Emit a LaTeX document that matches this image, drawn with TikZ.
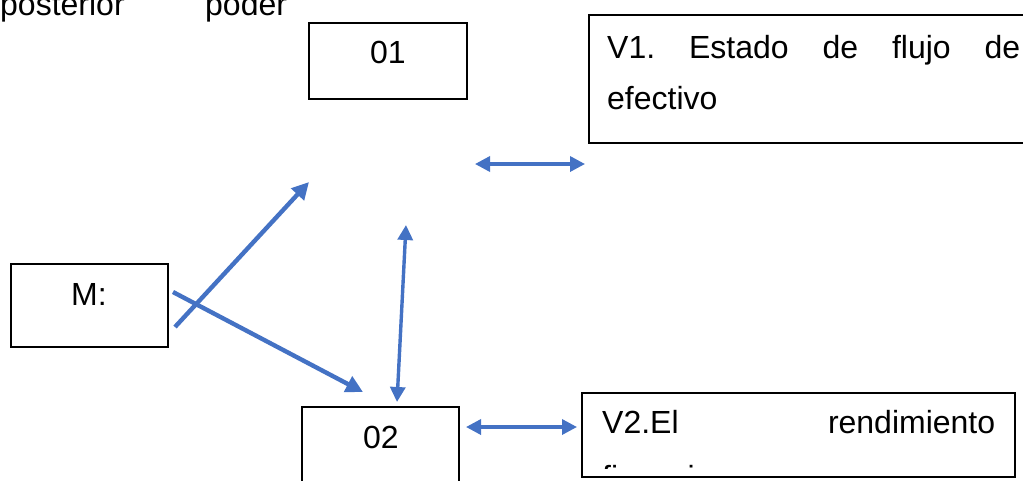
\documentclass[tikz,border=0pt]{standalone}
\usepackage{fontspec}
\setmainfont{Liberation Sans}
\usetikzlibrary{arrows.meta}
\definecolor{arrowblue}{HTML}{4472C4}
\begin{document}
\begin{tikzpicture}[x=1pt,y=-1pt,
  box/.style={draw=black, line width=1.4pt, inner sep=0pt, fill=none},
  txt/.style={inner sep=0pt, anchor=base west, font=\fontsize{32}{38}\selectfont},
  ctxt/.style={inner sep=0pt, anchor=base, font=\fontsize{32}{38}\selectfont},
  conn/.style={draw=arrowblue, line width=4.4pt, -{Triangle[length=17pt,width=17pt]}},
  dbl/.style={draw=arrowblue, line width=3.4pt, {Triangle[length=15pt,width=15pt]}-{Triangle[length=15pt,width=15pt]}}]
\useasboundingbox (0,0) rectangle (1023,480);
\clip (0,0) rectangle (1023,480);

% top text fragment
\node[txt] (posterior) at (0,15) {posterior};
\node[txt] (poder) at (205,15) {poder};

% boxes
\draw[box] (309,23) rectangle (467,99);
\node[ctxt] (t01) at (388,63) {01};

\draw[box] (589,15) rectangle (1040,143);
\node[txt] (v1a) at (607,58) {\hbox to 413pt{V1.\hfill Estado\hfill de\hfill flujo\hfill de}};
\node[txt] (v1b) at (607,109) {efectivo};

\draw[box] (11,264) rectangle (168,347);
\node[ctxt] (tM) at (89,305) {M:};

\draw[box] (302,407) rectangle (459,500);
\node[ctxt] (t02) at (381,448) {02};

\draw[box] (582,393) rectangle (1015,477);
\node[txt] (v2a) at (602,433) {\hbox to 393pt{V2.El\hfill rendimiento}};
\begin{scope}
  \clip (583,394) rectangle (1014,468);
  \node[txt] (v2b) at (602,488) {financiero};
\end{scope}

% connector end points
\coordinate (m1s) at (175,327);
\coordinate (m1e) at (309,182);
\coordinate (m2s) at (173,292);
\coordinate (m2e) at (363,392);
\coordinate (vt) at (406,225);
\coordinate (vb) at (397,402);
\coordinate (h1l) at (475,164);
\coordinate (h1r) at (585,164);
\coordinate (h2l) at (466,427);
\coordinate (h2r) at (577,427);

\draw[conn] (m1s) -- (m1e);
\draw[conn] (m2s) -- (m2e);
\draw[dbl] (vt) -- (vb);
\draw[dbl] (h1l) -- (h1r);
\draw[dbl] (h2l) -- (h2r);
\end{tikzpicture}
\end{document}
